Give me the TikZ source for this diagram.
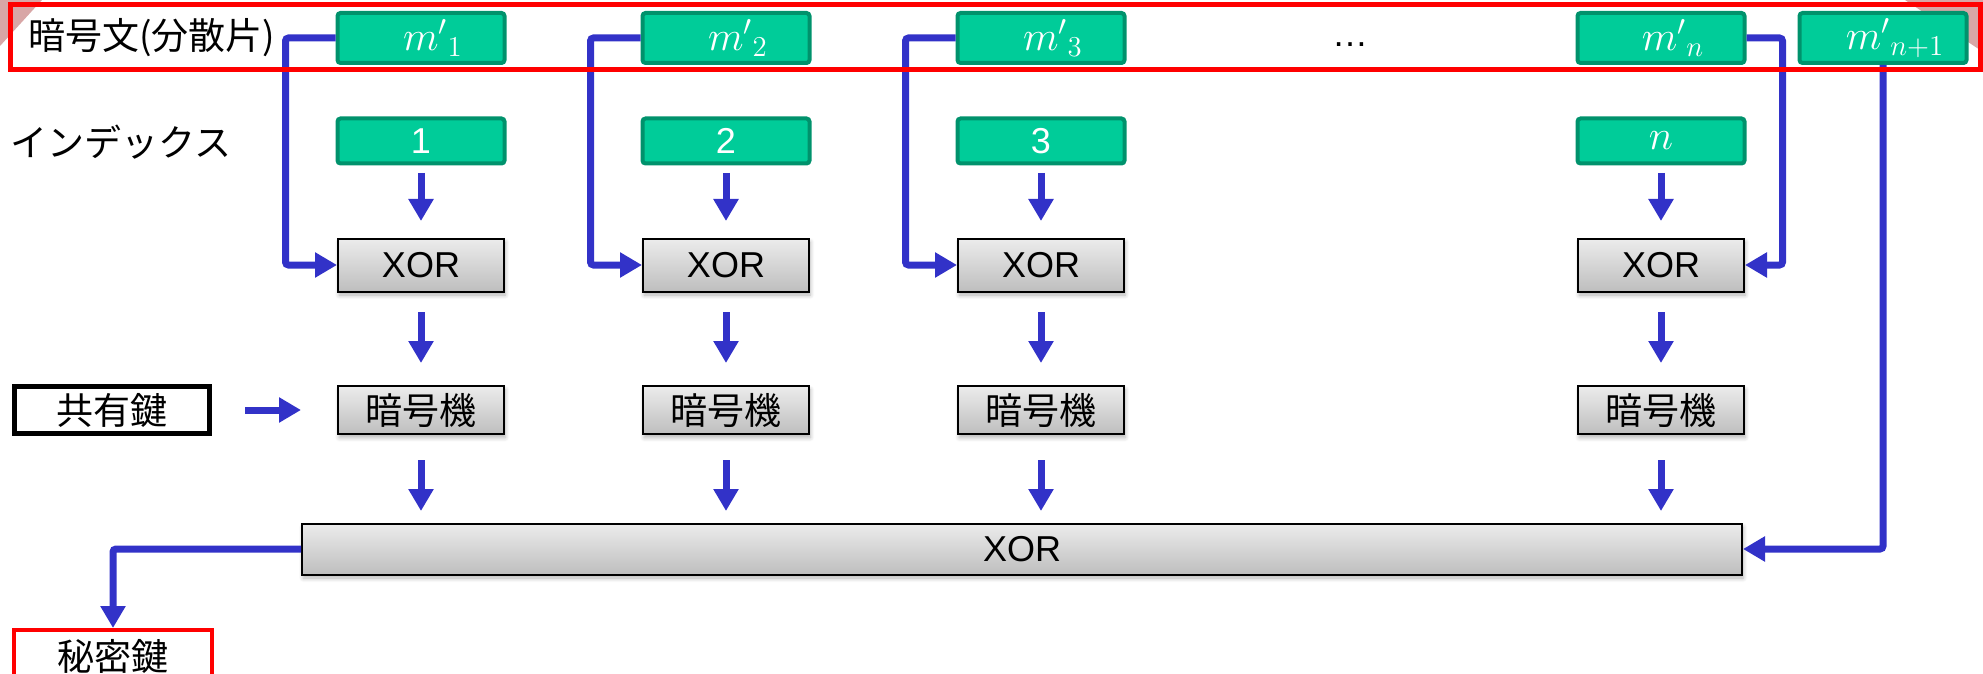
\documentclass[tikz,border=0pt]{standalone}
\usepackage{fontspec}
\setmainfont{Liberation Sans}
\newfontfamily\jpfont{Noto Sans CJK JP}
\usetikzlibrary{arrows.meta,shadows.blur}

\definecolor{sharegreen}{RGB}{0,204,153}
\definecolor{shareedge}{RGB}{0,146,108}
\definecolor{flowblue}{RGB}{50,50,200}
\definecolor{boxtop}{RGB}{236,236,236}
\definecolor{boxbottom}{RGB}{190,190,190}
\definecolor{cornerpink}{RGB}{216,166,166}

\tikzset{
  jptext/.style={font=\jpfont\fontsize{18.5}{22}\selectfont},
  sharebox/.style={draw=shareedge, fill=sharegreen, line width=2pt, rounded corners=1.5pt,
    minimum width=83.5pt, minimum height=25pt, inner sep=0pt, text=white,
    font=\fontsize{22.5}{26}\selectfont},
  idxbox/.style={sharebox, minimum height=22.5pt, font=\fontsize{18}{22}\selectfont},
  unitbox/.style={draw=black, line width=1pt, top color=boxtop, bottom color=boxbottom,
    minimum width=83pt, minimum height=26.5pt, inner sep=0pt, font=\fontsize{18}{22}\selectfont,
    blur shadow={shadow xshift=0.6pt, shadow yshift=-1.8pt, shadow blur steps=6, shadow opacity=30}},
  keybox/.style={draw=black, line width=2.5pt, fill=white, minimum width=97.5pt,
    minimum height=23.5pt, inner sep=0pt, jptext},
  rowlabel/.style={anchor=west, inner sep=0pt, jptext},
  flowarrow/.style={draw=flowblue, line width=3.5pt, rounded corners=1.5pt,
    -{Triangle[width=12pt,length=11pt]}}
}

\begin{document}
\begin{tikzpicture}[x=0.5pt,y=-0.5pt]
  \useasboundingbox (0,0) rectangle (1983,674);
  % slide corners
  \fill[cornerpink] (0,0) -- (42,0) -- (0,46) -- cycle;
  \fill[cornerpink] (1905,0) -- (1983,0) -- (1983,52) -- cycle;

  \node[rowlabel] (ctlabel) at (28,38) {暗号文(分散片)};
  \node[rowlabel] (idxlabel) at (10,142) {インデックス};

  % shares 1..3, fed in from the left
  \foreach \k/\x in {1/421, 2/726, 3/1041} {
    \node[sharebox] (m\k) at (\x,38) {\hspace*{12pt}${m'}_{\k}$};
    \node[idxbox] (i\k) at (\x,141) {\k};
    \node[unitbox] (x\k) at (\x,265) {XOR};
    \node[unitbox, jptext, minimum height=24pt] (e\k) at (\x,410) {暗号機};
    \draw[flowarrow] (m\k.west) -- ++(-50,0) |- (x\k.west);
    \draw[flowarrow, shorten <=3.75pt, shorten >=8.25pt] (i\k) -- (x\k);
    \draw[flowarrow, shorten <=9.75pt, shorten >=11pt] (x\k) -- (e\k);
  }

  % share n, fed in from the right
  \node[sharebox] (mn) at (1661,38) {\hspace*{12pt}${m'}_{n}$};
  \node[idxbox, font=\fontsize{22.5}{26}\selectfont] (in) at (1661,141) {$n$};
  \node[unitbox] (xn) at (1661,265) {XOR};
  \node[unitbox, jptext, minimum height=24pt] (en) at (1661,410) {暗号機};
  \draw[flowarrow] (mn.east) -- ++(36,0) |- (xn.east);
  \draw[flowarrow, shorten <=3.75pt, shorten >=8.25pt] (in) -- (xn);
  \draw[flowarrow, shorten <=9.75pt, shorten >=11pt] (xn) -- (en);

  \node[anchor=base, inner sep=0pt, font=\fontsize{18}{22}\selectfont] (dots) at (1350,47) {…};
  \node[sharebox] (mN) at (1883,38) {\hspace*{12pt}${m'}_{n+1}$};

  \node[keybox] (key) at (112,410) {共有鍵};
  \draw[flowarrow, shorten <=16.5pt, shorten >=18pt] (key) -- (e1);

  \node[unitbox, minimum width=720pt, minimum height=25.5pt] (total) at (1022,549) {XOR};
  \foreach \k in {1,2,3,n}
    \draw[flowarrow, shorten <=12.5pt, shorten >=5.75pt] (e\k.south) -- (e\k.south |- total.north);
  \draw[flowarrow] (mN.south) |- (total.east);

  \node[keybox, draw=red, line width=2pt, minimum width=99pt, minimum height=26pt] (secret) at (113,656) {秘密鍵};
  \draw[flowarrow] (total.west) -| (secret.north);

  \draw[red, line width=2.5pt] (10,5) rectangle (1980,70);
\end{tikzpicture}
\end{document}
